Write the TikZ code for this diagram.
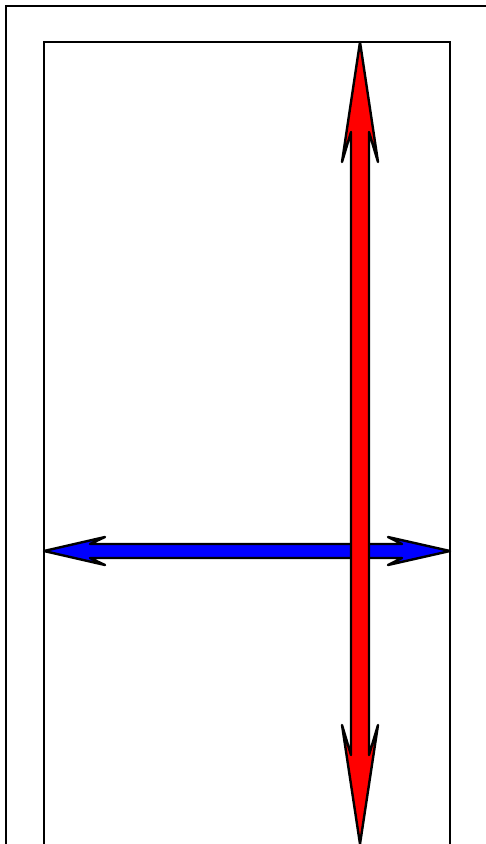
\documentclass[tikz,border=0pt]{standalone}
\begin{document}
\begin{tikzpicture}[x=1pt,y=-1pt,
  frame/.style={draw=black,line width=2.2pt},
  arrowshape/.style={draw=black,line width=2.4pt,line join=round}]
\useasboundingbox (0,0) rectangle (486,844);
\clip (0,0) rectangle (486,844);
\fill[white] (0,0) rectangle (486,844);
\draw[frame] (6,6) rectangle (492,852);
\draw[frame] (44,42) rectangle (450,852);
% blue horizontal double arrow
\draw[arrowshape,fill=blue] (44,551) -- (105,537) -- (90,544) -- (402,544) -- (388,537) -- (450,551)
  -- (388,565) -- (402,558) -- (90,558) -- (105,565) -- cycle;
% red vertical double arrow
\draw[arrowshape,fill=red] (360,42) -- (378,162) -- (369,132) -- (369,755) -- (378,725) -- (360,844)
  -- (342,725) -- (351,755) -- (351,132) -- (342,162) -- cycle;
\end{tikzpicture}
\end{document}
